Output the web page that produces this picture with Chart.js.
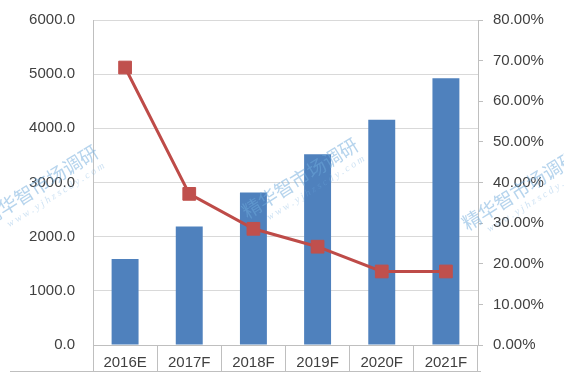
<!DOCTYPE html>
<html>
<head>
<meta charset="utf-8">
<script src="https://cdn.jsdelivr.net/npm/chart.js@4/dist/chart.umd.min.js"></script>
<style>
  html, body { margin: 0; padding: 0; background: #ffffff; }
  canvas { display: block; }
</style>
</head>
<body>
<canvas id="c" width="564" height="376"></canvas>
<script>
// ---- data ----
const categories = ['2016E', '2017F', '2018F', '2019F', '2020F', '2021F'];
const marketSize = [1590, 2190, 2815, 3520, 4160, 4925];   // left axis
const growthRate = [68.3, 37.2, 28.6, 24.2, 18.1, 18.1];     // right axis, %
const leftTicks = { min: 0, max: 6000, step: 1000 };
const rightTicks = { min: 0, max: 80, step: 10 };
const watermarkText = '精华智市场调研';
const watermarkUrl = 'www.yjhzscdy.com';

const FONT = { family: '"Liberation Sans", Arial, sans-serif', size: 15 };
const TEXT = '#404040';
const AXIS = '#bfbfbf';

const decor = {
  id: 'decor',
  afterDraw(chart) {
    const ctx = chart.ctx;
    const a = chart.chartArea;
    ctx.save();
    // bottom border line under the category labels
    ctx.strokeStyle = AXIS;
    ctx.lineWidth = 1;
    ctx.beginPath();
    ctx.moveTo(10, a.bottom + 26.5);
    ctx.lineTo(a.right + 3, a.bottom + 26.5);
    ctx.stroke();
    // faint watermarks
    const marks = [[40, 185], [300, 178], [520, 190]];
    marks.forEach(([x, y]) => {
      ctx.save();
      ctx.translate(x, y);
      ctx.rotate(-32 * Math.PI / 180);
      ctx.textAlign = 'center';
      ctx.textBaseline = 'middle';
      ctx.fillStyle = 'rgba(110,170,220,0.5)';
      ctx.font = '19px "Noto Sans CJK SC", sans-serif';
      ctx.fillText(watermarkText, 0, 0);
      ctx.fillStyle = 'rgba(110,170,220,0.35)';
      ctx.font = 'italic 10px "Liberation Serif", serif';
      ctx.fillText(watermarkUrl.split('').join(' '), 8, 17);
      ctx.restore();
    });
    ctx.restore();
  }
};

function noPad(s) { s.paddingTop = 0; s.paddingBottom = 0; }

new Chart(document.getElementById('c'), {
  type: 'bar',
  data: {
    labels: categories,
    datasets: [
      {
        type: 'line',
        data: growthRate,
        yAxisID: 'y1',
        order: 0,
        borderColor: '#BE4B48',
        borderWidth: 3,
        tension: 0,
        pointStyle: 'rect',
        pointRadius: 9,
        pointHoverRadius: 9,
        pointBackgroundColor: '#C0504D',
        pointBorderColor: '#C0504D',
        pointBorderWidth: 1
      },
      {
        type: 'bar',
        data: marketSize,
        yAxisID: 'y',
        order: 1,
        backgroundColor: '#4F81BD',
        borderWidth: 0,
        categoryPercentage: 1,
        barPercentage: 0.42
      }
    ]
  },
  options: {
    responsive: false,
    animation: false,
    devicePixelRatio: 1,
    layout: { padding: { top: 20, left: 0, right: 0, bottom: 0 } },
    plugins: { legend: { display: false }, tooltip: { enabled: false } },
    scales: {
      x: {
        offset: true,
        grid: { offset: true, drawOnChartArea: false, drawTicks: true, tickLength: 26, color: AXIS },
        border: { color: AXIS },
        ticks: { font: FONT, color: TEXT, padding: -17, maxRotation: 0 },
        afterFit(s) { s.height = 31; }
      },
      y: {
        position: 'left',
        min: leftTicks.min, max: leftTicks.max,
        grid: { color: '#d9d9d9', drawTicks: false },
        border: { color: AXIS },
        ticks: {
          stepSize: leftTicks.step, font: FONT, color: TEXT, padding: 18,
          callback: v => Number(v).toFixed(1)
        },
        afterFit(s) { s.width = 93; noPad(s); }
      },
      y1: {
        position: 'right',
        min: rightTicks.min, max: rightTicks.max,
        grid: { drawOnChartArea: false, drawTicks: true, tickLength: 5, color: AXIS },
        border: { color: AXIS },
        ticks: {
          stepSize: rightTicks.step, font: FONT, color: TEXT, padding: 10,
          callback: v => Number(v).toFixed(2) + '%'
        },
        afterFit(s) { s.width = 86; noPad(s); }
      }
    }
  },
  plugins: [decor]
});
</script>
</body>
</html>
